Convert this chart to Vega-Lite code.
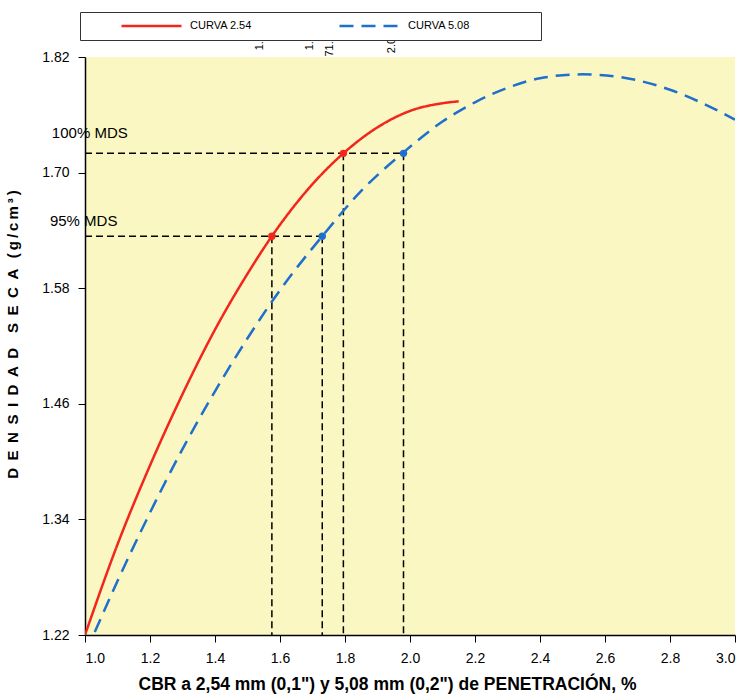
{
  "$schema": "https://vega.github.io/schema/vega-lite/v6.json",
  "width": 650,
  "height": 578,
  "autosize": {"type": "none"},
  "padding": {"left": 85, "top": 57, "right": 9, "bottom": 62},
  "background": "white",
  "config": {
    "font": "Liberation Sans",
    "view": {"fill": "#FAF7C2", "stroke": null},
    "axis": {"grid": false, "domainColor": "black", "tickColor": "black", "labelColor": "black", "titleColor": "black", "domainWidth": 1.5, "tickSize": 7, "labelFont": "Liberation Sans"}
  },
  "datasets": {
    "curvas": [
      {"curva": "CURVA 2.54", "cbr": 1.0, "dens": 1.22},
      {"curva": "CURVA 2.54", "cbr": 1.1, "dens": 1.314},
      {"curva": "CURVA 2.54", "cbr": 1.2, "dens": 1.396},
      {"curva": "CURVA 2.54", "cbr": 1.3, "dens": 1.47},
      {"curva": "CURVA 2.54", "cbr": 1.4, "dens": 1.537},
      {"curva": "CURVA 2.54", "cbr": 1.5, "dens": 1.595},
      {"curva": "CURVA 2.54", "cbr": 1.575, "dens": 1.634},
      {"curva": "CURVA 2.54", "cbr": 1.7, "dens": 1.688},
      {"curva": "CURVA 2.54", "cbr": 1.795, "dens": 1.72},
      {"curva": "CURVA 2.54", "cbr": 1.9, "dens": 1.747},
      {"curva": "CURVA 2.54", "cbr": 2.0, "dens": 1.764},
      {"curva": "CURVA 2.54", "cbr": 2.1, "dens": 1.772},
      {"curva": "CURVA 2.54", "cbr": 2.15, "dens": 1.774},
      {"curva": "CURVA 5.08", "cbr": 1.03, "dens": 1.223},
      {"curva": "CURVA 5.08", "cbr": 1.1, "dens": 1.276},
      {"curva": "CURVA 5.08", "cbr": 1.2, "dens": 1.347},
      {"curva": "CURVA 5.08", "cbr": 1.3, "dens": 1.413},
      {"curva": "CURVA 5.08", "cbr": 1.4, "dens": 1.473},
      {"curva": "CURVA 5.08", "cbr": 1.5, "dens": 1.528},
      {"curva": "CURVA 5.08", "cbr": 1.6, "dens": 1.578},
      {"curva": "CURVA 5.08", "cbr": 1.73, "dens": 1.634},
      {"curva": "CURVA 5.08", "cbr": 1.85, "dens": 1.681},
      {"curva": "CURVA 5.08", "cbr": 1.98, "dens": 1.721},
      {"curva": "CURVA 5.08", "cbr": 2.1, "dens": 1.753},
      {"curva": "CURVA 5.08", "cbr": 2.2, "dens": 1.773},
      {"curva": "CURVA 5.08", "cbr": 2.3, "dens": 1.788},
      {"curva": "CURVA 5.08", "cbr": 2.4, "dens": 1.798},
      {"curva": "CURVA 5.08", "cbr": 2.53, "dens": 1.802},
      {"curva": "CURVA 5.08", "cbr": 2.65, "dens": 1.799},
      {"curva": "CURVA 5.08", "cbr": 2.8, "dens": 1.786},
      {"curva": "CURVA 5.08", "cbr": 2.9, "dens": 1.772},
      {"curva": "CURVA 5.08", "cbr": 3.0, "dens": 1.755}
    ],
    "puntos": [
      {"curva": "CURVA 2.54", "cbr": 1.575, "dens": 1.634},
      {"curva": "CURVA 2.54", "cbr": 1.795, "dens": 1.72},
      {"curva": "CURVA 5.08", "cbr": 1.73, "dens": 1.634},
      {"curva": "CURVA 5.08", "cbr": 1.98, "dens": 1.72}
    ],
    "horiz": [
      {"x1": 1.0, "x2": 1.98, "dens": 1.72},
      {"x1": 1.0, "x2": 1.73, "dens": 1.634}
    ],
    "etiquetas": [
      {"t": "100% MDS", "cbr": 0.898, "dens": 1.741},
      {"t": "95% MDS", "cbr": 0.892, "dens": 1.65}
    ],
    "arriba": [
      {"t": "1.", "cbr": 1.538, "dens": 1.827},
      {"t": "1.", "cbr": 1.692, "dens": 1.827},
      {"t": "71.", "cbr": 1.754, "dens": 1.8205},
      {"t": "2.0", "cbr": 1.945, "dens": 1.824}
    ]
  },
  "layer": [
    {
      "data": {"name": "horiz"},
      "mark": {"type": "rule", "color": "black", "strokeWidth": 1.5, "strokeDash": [7, 4]},
      "encoding": {
        "x": {"field": "x1", "type": "quantitative"},
        "x2": {"field": "x2"},
        "y": {"field": "dens", "type": "quantitative"}
      }
    },
    {
      "data": {"name": "puntos"},
      "mark": {"type": "rule", "color": "black", "strokeWidth": 1.5, "strokeDash": [7, 4]},
      "encoding": {
        "x": {"field": "cbr", "type": "quantitative"},
        "y": {"field": "dens", "type": "quantitative"},
        "y2": {"datum": 1.22}
      }
    },
    {
      "data": {"name": "curvas"},
      "mark": {"type": "line", "interpolate": "monotone", "strokeWidth": 2.5, "clip": true},
      "encoding": {
        "x": {
          "field": "cbr", "type": "quantitative",
          "scale": {"domain": [1, 3], "nice": false, "zero": false},
          "axis": {
            "values": [1.0, 1.2, 1.4, 1.6, 1.8, 2.0, 2.2, 2.4, 2.6, 2.8, 3.0],
            "format": ".1f",
            "labelFontSize": 14,
            "labelPadding": 9,
            "title": "CBR a 2,54 mm (0,1\") y 5,08 mm (0,2\") de PENETRACIÓN, %",
            "titleFontSize": 17.5,
            "titleFontWeight": "bold",
            "titlePadding": 10,
            "titleX": 302
          }
        },
        "y": {
          "field": "dens", "type": "quantitative",
          "scale": {"domain": [1.22, 1.82], "nice": false, "zero": false},
          "axis": {
            "values": [1.22, 1.34, 1.46, 1.58, 1.70, 1.82],
            "format": ".2f",
            "labelFontSize": 14,
            "labelPadding": 9,
            "title": "D\u2002E\u2002N\u2002S\u2002I\u2002D\u2002A\u2002D\u2002\u2002S\u2002E\u2002C\u2002A\u2002\u2009(\u2009g\u2009/\u2009c\u2009m\u2009³\u2009)",
            "titleFontSize": 15,
            "titleFontWeight": "bold",
            "titleX": -65,
            "titleY": 277,
            "titleBaseline": "bottom"
          }
        },
        "color": {
          "field": "curva", "type": "nominal",
          "scale": {"domain": ["CURVA 2.54", "CURVA 5.08"], "range": ["#F2261C", "#1F6FCC"]},
          "legend": {
            "title": "MMM", "titleColor": "white", "titleOrient": "left", "titleFontSize": 11, "titlePadding": 5,
            "orient": "none", "legendX": -5, "legendY": -45, "direction": "horizontal",
            "fillColor": "white", "strokeColor": "#333333", "padding": 7,
            "symbolType": "stroke", "symbolSize": 3600, "symbolStrokeWidth": 2.5, "clipHeight": 14,
            "labelFontSize": 11, "labelColor": "black", "labelOffset": 7, "columnPadding": 86, "labelLimit": 200,
            "labelExpr": "datum.label == 'CURVA 5.08' ? datum.label + '\u2800\u2800\u2800\u2800\u2800\u2800\u2800\u2800' : datum.label"
          }
        },
        "strokeDash": {
          "field": "curva", "type": "nominal",
          "scale": {"domain": ["CURVA 2.54", "CURVA 5.08"], "range": [[1, 0], [14, 8]]},
          "legend": {
            "title": "MMM", "titleColor": "white", "titleOrient": "left", "titleFontSize": 11, "titlePadding": 5,
            "orient": "none", "legendX": -5, "legendY": -45, "direction": "horizontal",
            "fillColor": "white", "strokeColor": "#333333", "padding": 7,
            "symbolType": "stroke", "symbolSize": 3600, "symbolStrokeWidth": 2.5, "clipHeight": 14,
            "labelFontSize": 11, "labelColor": "black", "labelOffset": 7, "columnPadding": 86, "labelLimit": 200,
            "labelExpr": "datum.label == 'CURVA 5.08' ? datum.label + '\u2800\u2800\u2800\u2800\u2800\u2800\u2800\u2800' : datum.label"
          }
        }
      }
    },
    {
      "data": {"name": "puntos"},
      "mark": {"type": "circle", "size": 55, "opacity": 1},
      "encoding": {
        "x": {"field": "cbr", "type": "quantitative"},
        "y": {"field": "dens", "type": "quantitative"},
        "color": {"field": "curva", "type": "nominal", "legend": null}
      }
    },
    {
      "data": {"name": "etiquetas"},
      "mark": {"type": "text", "align": "left", "baseline": "middle", "fontSize": 15, "color": "black"},
      "encoding": {
        "x": {"field": "cbr", "type": "quantitative"},
        "y": {"field": "dens", "type": "quantitative"},
        "text": {"field": "t"}
      }
    },
    {
      "data": {"name": "arriba"},
      "mark": {"type": "text", "align": "left", "baseline": "middle", "angle": 270, "fontSize": 11, "color": "black"},
      "encoding": {
        "x": {"field": "cbr", "type": "quantitative"},
        "y": {"field": "dens", "type": "quantitative"},
        "text": {"field": "t"}
      }
    }
  ]
}
